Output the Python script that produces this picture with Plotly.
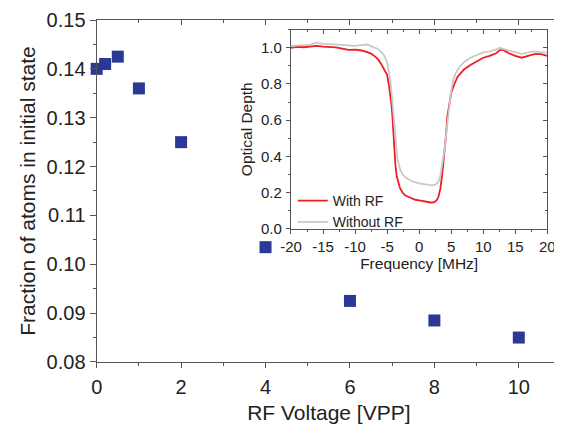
import plotly.graph_objects as go

# Main data
rf_voltage = [0, 0.2, 0.5, 1, 2, 4, 6, 8, 10]
fraction = [0.1400, 0.1410, 0.1425, 0.1360, 0.1250, 0.1035, 0.0925, 0.0885, 0.0850]

# Inset data
freq_with = [-20, -19, -18, -17, -16, -15, -14, -13, -12, -11, -10, -9, -8, -7.5, -7, -6.5, -6, -5.5,
             -5, -4.7, -4.5, -4.3, -4.17, -4.0, -3.85, -3.7, -3.5, -3.2, -3.0, -2.6, -2.2, -1.8,
             -1.2, -0.6, 0, 0.6, 1.2, 1.8, 2.3, 2.7, 3.0, 3.3, 3.6, 3.9, 4.2, 4.4, 4.7, 5.0, 5.5,
             6, 6.5, 7, 8, 9, 10, 11, 12, 12.5, 13, 13.5, 14, 15, 16, 17, 18, 19, 20]
od_with = [1.000, 1.005, 1.003, 1.008, 1.010, 1.006, 1.005, 1.002, 0.995, 0.988, 0.990, 0.985, 0.975,
           0.968, 0.955, 0.940, 0.915, 0.885, 0.850, 0.790, 0.740, 0.680, 0.620, 0.520, 0.420,
           0.350, 0.290, 0.245, 0.225, 0.200, 0.185, 0.178, 0.167, 0.160, 0.157, 0.152, 0.148,
           0.145, 0.146, 0.155, 0.175, 0.220, 0.300, 0.400, 0.520, 0.620, 0.700, 0.750, 0.800,
           0.840, 0.860, 0.880, 0.905, 0.925, 0.945, 0.955, 0.970, 0.985, 0.990, 0.980, 0.970,
           0.955, 0.945, 0.955, 0.965, 0.965, 0.955]

freq_without = [-20, -19, -18, -17, -16, -15, -14, -13, -12, -11, -10, -9, -8, -7.5, -7, -6.5, -6, -5.5,
                -5, -4.7, -4.5, -4.3, -4.1, -3.93, -3.8, -3.6, -3.4, -3.0, -2.6, -2.0, -1.0, 0, 1,
                2, 2.6, 3.0, 3.3, 3.6, 4.0, 4.3, 4.5, 4.74, 5.0, 5.3, 5.7, 6.2, 7, 8, 9, 10, 11, 12,
                12.5, 13, 14, 15, 16, 17, 18, 19, 20]
od_without = [1.010, 1.012, 1.015, 1.018, 1.028, 1.020, 1.020, 1.018, 1.015, 1.012, 1.010, 1.015, 1.018,
              1.008, 1.000, 0.995, 0.980, 0.960, 0.920, 0.870, 0.820, 0.750, 0.670, 0.600, 0.520,
              0.440, 0.390, 0.330, 0.300, 0.280, 0.260, 0.250, 0.245, 0.240, 0.245, 0.260, 0.290,
              0.350, 0.450, 0.550, 0.620, 0.680, 0.760, 0.820, 0.860, 0.890, 0.920, 0.945, 0.960,
              0.975, 0.980, 0.990, 1.000, 0.995, 0.985, 0.975, 0.965, 0.975, 0.980, 0.975, 0.975]

main_xticks = [0, 2, 4, 6, 8, 10]
main_yticks = [0.08, 0.09, 0.10, 0.11, 0.12, 0.13, 0.14, 0.15]
inset_xticks = [-20, -15, -10, -5, 0, 5, 10, 15, 20]
inset_xticklabels = ["-20", "-15", "-10", "-5", "0", "5", "10", "15", "20"]
inset_yticks = [0.0, 0.2, 0.4, 0.6, 0.8, 1.0]

FONT = "Liberation Sans, Arial, sans-serif"
TXT = "#222222"
AX = "#555555"

fig = go.Figure()

fig.add_trace(go.Scatter(x=rf_voltage, y=fraction, mode="markers",
                         marker=dict(symbol="square", size=12, color="#2b3896",
                                     line=dict(width=0)),
                         showlegend=False, xaxis="x", yaxis="y", cliponaxis=False))
fig.add_trace(go.Scatter(x=[0], y=[0.08], mode="markers", marker=dict(opacity=0),
                         showlegend=False, hoverinfo="skip", xaxis="x2", yaxis="y2"))
fig.add_trace(go.Scatter(x=freq_with, y=od_with, mode="lines", name="With RF",
                         line=dict(color="#ee1c25", width=1.8),
                         xaxis="x3", yaxis="y3"))
fig.add_trace(go.Scatter(x=freq_without, y=od_without, mode="lines", name="Without RF",
                         line=dict(color="#c9c9c9", width=1.8),
                         xaxis="x3", yaxis="y3"))
fig.add_trace(go.Scatter(x=[0], y=[0], mode="markers", marker=dict(opacity=0),
                         showlegend=False, hoverinfo="skip", xaxis="x4", yaxis="y4"))

common_line = dict(showline=True, linecolor=AX, linewidth=1.3, showgrid=False, zeroline=False,
                   automargin=False)

fig.update_layout(
    width=554, height=417,
    margin=dict(l=0, r=0, t=0, b=0, autoexpand=False),
    paper_bgcolor="white", plot_bgcolor="white",
    font=dict(family=FONT, color=TXT),
    xaxis=dict(domain=[0.1601, 0.9982], anchor="y", range=[0, 11],
               tickvals=main_xticks, ticks="outside", ticklen=5, tickwidth=1.3, tickcolor=AX,
               minor=dict(dtick=1, tick0=0, ticks="outside", ticklen=3, tickwidth=1.3, tickcolor=AX),
               tickfont=dict(size=20), ticklabelstandoff=2,
               title=dict(text="RF Voltage [VPP]", font=dict(size=21), standoff=8),
               **common_line),
    yaxis=dict(domain=[0.1511, 0.9712], anchor="x", range=[0.08, 0.15],
               tickvals=main_yticks, tickformat=".2f", ticks="outside", ticklen=6, tickwidth=1.3,
               tickcolor=AX,
               minor=dict(dtick=0.005, tick0=0.08, ticks="outside", ticklen=3, tickwidth=1.3, tickcolor=AX),
               tickfont=dict(size=20),
               title=dict(text="Fraction of atoms in initial state", font=dict(size=21), standoff=5),
               **common_line),
    xaxis2=dict(overlaying="x", side="top", anchor="y", range=[0, 11], tickvals=main_xticks,
                ticks="inside", ticklen=5, tickwidth=1.3, tickcolor=AX, showticklabels=False,
                minor=dict(dtick=1, tick0=0, ticks="inside", ticklen=3, tickwidth=1.3, tickcolor=AX),
                **common_line),
    yaxis2=dict(overlaying="y", side="right", anchor="x2", range=[0.08, 0.15], tickvals=main_yticks,
                ticks="inside", ticklen=5, tickwidth=1.3, tickcolor=AX, showticklabels=False,
                minor=dict(dtick=0.005, tick0=0.08, ticks="inside", ticklen=3, tickwidth=1.3, tickcolor=AX),
                **common_line),
    xaxis3=dict(domain=[0.5108, 0.9735], anchor="y3", range=[-20, 20],
                tickvals=inset_xticks, ticktext=inset_xticklabels,
                ticks="outside", ticklen=4, tickwidth=1.2, tickcolor=AX,
                minor=dict(dtick=2.5, tick0=0, ticks="outside", ticklen=2, tickwidth=1.2, tickcolor=AX),
                tickfont=dict(size=15), ticklabelstandoff=0,
                title=dict(text="Frequency [MHz]", font=dict(size=15.5), standoff=1),
                **common_line),
    yaxis3=dict(domain=[0.4707, 0.948], anchor="x3", range=[0, 1.1],
                tickvals=inset_yticks, tickformat=".1f", ticks="outside", ticklen=4, tickwidth=1.2,
                tickcolor=AX,
                minor=dict(dtick=0.1, tick0=0, ticks="outside", ticklen=2, tickwidth=1.2, tickcolor=AX),
                tickfont=dict(size=15), ticklabelstandoff=1,
                title=dict(text="Optical Depth", font=dict(size=15.5), standoff=4),
                **common_line),
    xaxis4=dict(overlaying="x3", side="top", anchor="y3", range=[-20, 20], tickvals=inset_xticks,
                ticks="inside", ticklen=4, tickwidth=1.2, tickcolor=AX, showticklabels=False,
                minor=dict(dtick=2.5, tick0=0, ticks="inside", ticklen=2, tickwidth=1.2, tickcolor=AX),
                **common_line),
    yaxis4=dict(overlaying="y3", side="right", anchor="x4", range=[0, 1.1], tickvals=inset_yticks,
                ticks="inside", ticklen=4, tickwidth=1.2, tickcolor=AX, showticklabels=False,
                minor=dict(dtick=0.1, tick0=0, ticks="inside", ticklen=2, tickwidth=1.2, tickcolor=AX),
                **common_line),
    legend=dict(x=0.514, y=0.5755, xanchor="left", yanchor="top", bgcolor="rgba(0,0,0,0)",
                font=dict(size=14), tracegroupgap=0, itemwidth=30),
)

fig.write_html("out.html")
